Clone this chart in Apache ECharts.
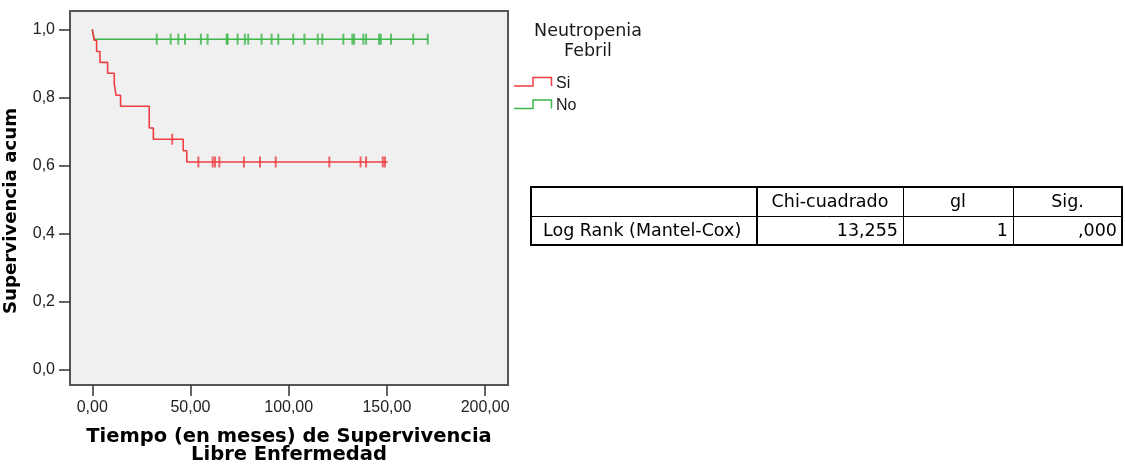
<!DOCTYPE html>
<html>
<head>
<meta charset="utf-8">
<script src="https://cdn.jsdelivr.net/npm/echarts@6/dist/echarts.min.js"></script>
<style>
  html, body { margin: 0; padding: 0; background: #ffffff; }
  #chart { width: 1125px; height: 471px; }
</style>
</head>
<body>
<div id="chart"></div>
<script>
// Kaplan-Meier disease-free survival, grouped by febrile neutropenia
const groupNames = ['Si', 'No'];

// Group "Si": event times (months) and the survival level after each step
const siTimes    = [0, 1.0, 2.2, 3.9, 7.8, 11.2, 12.1, 14.4, 29.0, 31.1, 46.3, 48.1, 150.4];
const siSurvival = [1, 0.968, 0.935, 0.903, 0.871, 0.839, 0.806, 0.774, 0.710, 0.677, 0.643, 0.610, 0.610];
const siCensored = [40.7, 54.0, 61.3, 62.5, 64.7, 77.2, 85.4, 93.4, 120.7, 136.6, 139.4, 147.9, 149.0];

// Group "No"
const noTimes    = [0, 1.0, 171.0];
const noSurvival = [1, 0.971, 0.971];
const noCensored = [32.8, 39.9, 43.8, 47.2, 55.3, 58.7, 68.4, 68.9, 74.0, 77.7, 79.4, 86.2, 91.3,
                    94.7, 102.3, 108.0, 114.8, 117.1, 127.8, 132.4, 133.3, 138.0, 139.4, 146.0,
                    146.9, 152.1, 163.4, 170.8];

const xTicks = [0, 50, 100, 150, 200];
const yTicks = [0, 0.2, 0.4, 0.6, 0.8, 1.0];

// Log-rank comparison table
const tableHeader = ['', 'Chi-cuadrado', 'gl', 'Sig.'];
const tableRow = ['Log Rank (Mantel-Cox)', '13,255', '1', ',000'];

const legendTitle = ['Neutropenia', 'Febril'];
const xTitle = 'Tiempo (en meses) de Supervivencia\nLibre Enfermedad';
const yTitle = 'Supervivencia acum';

const RED = '#ef3d42';
const GREEN = '#3cb54b';
const ARIAL = "'Liberation Sans', Arial, sans-serif";
const DEJAVU = "'DejaVu Sans', sans-serif";

// survival level of a step curve at time t
function levelAt(times, surv, t) {
  let s = surv[0];
  for (let i = 0; i < times.length; i++) if (times[i] <= t) s = surv[i];
  return s;
}
const zip = (a, b) => a.map((v, i) => [v, b[i]]);
const commaFmt = d => v => v.toFixed(d).replace('.', ',');

const chart = echarts.init(document.getElementById('chart'), null, { renderer: 'canvas' });

// table geometry
const colX = [531, 757, 903, 1013, 1122];
const rowY = [187, 216, 245];
const tableFont = { fontFamily: DEJAVU, fontSize: 17.5, fill: '#000' };
const tableEls = [];
tableEls.push({ type: 'rect', shape: { x: colX[0], y: rowY[0], width: colX[4] - colX[0], height: rowY[2] - rowY[0] },
  style: { fill: '#fff', stroke: '#000', lineWidth: 2 } });
tableEls.push({ type: 'line', shape: { x1: colX[0], y1: rowY[1] + 0.5, x2: colX[4], y2: rowY[1] + 0.5 },
  style: { stroke: '#000', lineWidth: 1 } });
tableEls.push({ type: 'line', shape: { x1: colX[1], y1: rowY[0], x2: colX[1], y2: rowY[2] },
  style: { stroke: '#000', lineWidth: 2 } });
[2, 3].forEach(c => tableEls.push({ type: 'line',
  shape: { x1: colX[c] + 0.5, y1: rowY[0], x2: colX[c] + 0.5, y2: rowY[2] },
  style: { stroke: '#000', lineWidth: 1 } }));
tableHeader.forEach((t, c) => {
  if (!t) return;
  tableEls.push({ type: 'text', x: (colX[c] + colX[c + 1]) / 2, y: (rowY[0] + rowY[1]) / 2 + 1,
    style: Object.assign({ text: t, align: 'center', verticalAlign: 'middle' }, tableFont) });
});
tableRow.forEach((t, c) => {
  const left = c === 0;
  tableEls.push({ type: 'text', x: left ? colX[0] + 12 : colX[c + 1] - 5, y: (rowY[1] + rowY[2]) / 2 + 1,
    style: Object.assign({ text: t, align: left ? 'left' : 'right', verticalAlign: 'middle' }, tableFont) });
});

// legend: title plus step-shaped keys
const legendEls = [
  { type: 'text', x: 588, y: 31, style: { text: legendTitle[0], align: 'center', verticalAlign: 'middle',
    fontFamily: DEJAVU, fontSize: 17.5, fill: '#1a1a1a' } },
  { type: 'text', x: 588, y: 51, style: { text: legendTitle[1], align: 'center', verticalAlign: 'middle',
    fontFamily: DEJAVU, fontSize: 17.5, fill: '#1a1a1a' } }
];
[[RED, 83.5], [GREEN, 106]].forEach(([col, cy], i) => {
  legendEls.push({ type: 'polyline',
    shape: { points: [[514, cy + 2.5], [533, cy + 2.5], [533, cy - 6], [551.5, cy - 6], [551.5, cy + 2.5]] },
    style: { stroke: col, lineWidth: 1.5, fill: null } });
  legendEls.push({ type: 'text', x: 556, y: cy, style: { text: groupNames[i], align: 'left',
    verticalAlign: 'middle', fontFamily: ARIAL, fontSize: 16, fill: '#1a1a1a' } });
});

const option = {
  animation: false,
  backgroundColor: '#ffffff',
  grid: {
    left: 70, right: 617, top: 11, bottom: 86,
    show: true, backgroundColor: '#f0f0f0', borderColor: '#555555', borderWidth: 2
  },
  xAxis: {
    type: 'value', min: -11.35, max: 211.66,
    axisLine: { show: false, onZero: false },
    splitLine: { show: false },
    axisTick: { show: true, customValues: xTicks, length: 11, lineStyle: { color: '#333', width: 1.5 } },
    axisLabel: { customValues: xTicks, formatter: commaFmt(2), margin: 15,
      color: '#222', fontFamily: ARIAL, fontSize: 16 },
    name: xTitle, nameLocation: 'middle', nameGap: 43,
    nameTextStyle: { fontFamily: DEJAVU, fontWeight: 'bold', fontSize: 19.5, lineHeight: 18, color: '#000' }
  },
  yAxis: {
    type: 'value', min: -0.046, max: 1.054,
    axisLine: { show: false, onZero: false },
    splitLine: { show: false },
    axisTick: { show: true, customValues: yTicks, length: 11, lineStyle: { color: '#333', width: 1.5 } },
    axisLabel: { customValues: yTicks, formatter: commaFmt(1), margin: 15,
      color: '#222', fontFamily: ARIAL, fontSize: 16 }
  },
  graphic: [
    { type: 'text', x: 11, y: 211, rotation: Math.PI / 2,
      style: { text: yTitle, align: 'center', verticalAlign: 'middle',
        fontFamily: DEJAVU, fontWeight: 'bold', fontSize: 18.2, fill: '#000' } }
  ].concat(legendEls, tableEls),
  series: [
    { name: groupNames[1], type: 'line', step: 'end', symbol: 'none', silent: true,
      data: zip(noTimes, noSurvival), lineStyle: { color: GREEN, width: 1.6 } },
    { name: groupNames[1] + ' censurado', type: 'scatter', silent: true, symbol: 'rect', symbolSize: [2, 11],
      data: noCensored.map(t => [t, levelAt(noTimes, noSurvival, t)]), itemStyle: { color: GREEN } },
    { name: groupNames[0], type: 'line', step: 'end', symbol: 'none', silent: true,
      data: zip(siTimes, siSurvival), lineStyle: { color: RED, width: 1.6 } },
    { name: groupNames[0] + ' censurado', type: 'scatter', silent: true, symbol: 'rect', symbolSize: [2, 11],
      data: siCensored.map(t => [t, levelAt(siTimes, siSurvival, t)]), itemStyle: { color: RED } }
  ]
};
chart.setOption(option);
</script>
</body>
</html>
